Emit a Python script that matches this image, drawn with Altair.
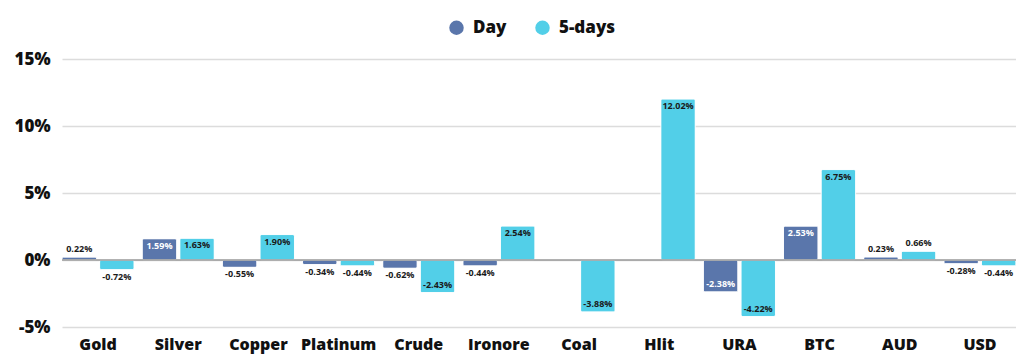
import altair as alt
import pandas as pd

categories = ["Gold", "Silver", "Copper", "Platinum", "Crude", "Ironore",
              "Coal", "Hlit", "URA", "BTC", "AUD", "USD"]
day_values = [0.22, 1.59, -0.55, -0.34, -0.62, -0.44, None, None, -2.38, 2.53, 0.23, -0.28]
five_day_values = [-0.72, 1.63, 1.90, -0.44, -2.43, 2.54, -3.88, 12.02, -4.22, 6.75, 0.66, -0.44]
series = ["Day", "5-days"]
colors = ["#5a76ab", "#52cfe8"]
y_ticks = [-5, 0, 5, 10, 15]

rows = []
for c, d, f in zip(categories, day_values, five_day_values):
    for s, v in ((series[0], d), (series[1], f)):
        if v is None:
            continue
        rows.append({"cat": c, "series": s, "value": v, "label": f"{v:.2f}%"})
df = pd.DataFrame(rows)

FONT = "Open Sans"

x = alt.X("cat:N", sort=categories, title=None,
          scale=alt.Scale(paddingInner=0.1, paddingOuter=0.0),
          axis=alt.Axis(labelAngle=0, labelFontSize=16, labelFontWeight=800,
                        labelColor="#111111", labelPadding=9, ticks=False,
                        domain=False, grid=False, labelFont=FONT))
xo = alt.XOffset("series:N", sort=series,
                 scale=alt.Scale(domain=series, paddingInner=0.08))
y_axis = alt.Axis(values=y_ticks, labelExpr="datum.value + '%'",
                  labelFontSize=17, labelFontWeight=800, labelColor="#111111",
                  labelFont=FONT, ticks=False, domain=False, labelPadding=12,
                  grid=True, gridColor="#dcdcdc", gridWidth=1.5)
y = alt.Y("value:Q", title=None,
          scale=alt.Scale(domain=[-5, 15], nice=False), axis=y_axis)

base = alt.Chart(df)

bars = base.mark_bar(cornerRadius=2, stroke="white", strokeWidth=0.8).encode(
    x=x, xOffset=xo, y=y,
    color=alt.Color("series:N", sort=series,
                    scale=alt.Scale(domain=series, range=colors),
                    legend=alt.Legend(title=None, orient="none", direction="horizontal",
                                      legendX=386, legendY=-40, symbolType="circle",
                                      symbolSize=210, symbolStrokeWidth=0,
                                      labelFontSize=17, labelFontWeight=800,
                                      labelFont=FONT, labelColor="#111111",
                                      labelOffset=8, columnPadding=27)),
)

zero = base.transform_filter("datum.cat == 'Gold' && datum.series == 'Day'").transform_calculate(
    z="0"
).mark_rule(color="#9a9a9a", strokeWidth=1.5).encode(
    y=alt.Y("z:Q", title=None, scale=alt.Scale(domain=[-5, 15], nice=False), axis=y_axis)
)

label_color = alt.condition(
    "datum.series == 'Day' && abs(datum.value) >= 1", alt.value("white"), alt.value("#1a1a1a")
)


def labels(filt, baseline, dy):
    return base.transform_filter(filt).mark_text(
        baseline=baseline, dy=dy, fontSize=9, fontWeight="bold", font=FONT
    ).encode(x=x, xOffset=xo, y=y, text="label:N", color=label_color)


pos_out = labels("datum.value >= 0 && datum.value < 1", "bottom", -3)
pos_in = labels("datum.value >= 1", "top", 3)
neg_out = labels("datum.value < 0 && datum.value > -1", "top", 3)
neg_in = labels("datum.value <= -1", "bottom", -3)

chart = alt.layer(bars, zero, pos_out, pos_in, neg_out, neg_in).properties(
    width=954, height=268, autosize="none",
    padding={"left": 54, "top": 51, "right": 0, "bottom": 29},
).configure(font=FONT).configure_view(stroke=None).configure_axis(domain=False)

chart.save("out.html", embed_options={"renderer": "svg", "actions": False})
